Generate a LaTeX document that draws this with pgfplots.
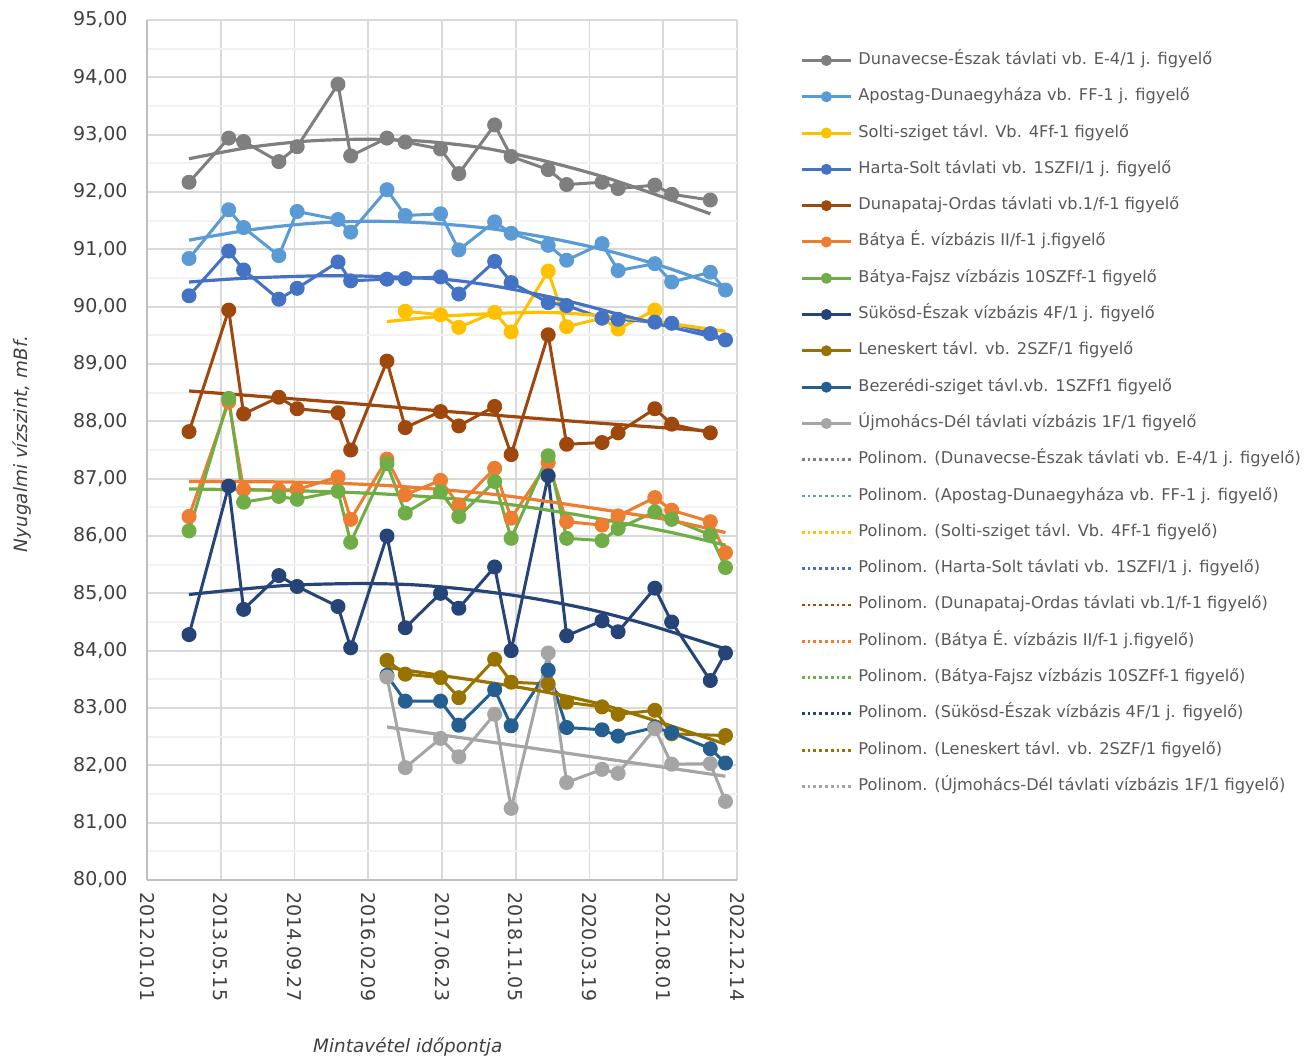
\documentclass[border=0pt]{standalone}
\usepackage{fontspec}
\setmainfont{DejaVu Sans}
\usepackage{pgfplots}
\pgfplotsset{compat=1.18}

\definecolor{cDuna}{HTML}{7F7F7F}
\definecolor{cApos}{HTML}{5B9BD5}
\definecolor{cSolt}{HTML}{FFC000}
\definecolor{cHart}{HTML}{4472C4}
\definecolor{cOrda}{HTML}{9E480E}
\definecolor{cBaty}{HTML}{ED7D31}
\definecolor{cFajs}{HTML}{70AD47}
\definecolor{cSuko}{HTML}{264478}
\definecolor{cLene}{HTML}{997300}
\definecolor{cBeze}{HTML}{255E91}
\definecolor{cUjmo}{HTML}{A5A5A5}
\definecolor{txt}{HTML}{404040}
\definecolor{legtxt}{HTML}{595959}

\pgfplotsset{
  series/.style={color=#1, line width=1.5pt, line join=round, mark=*, mark size=3pt,
    mark options={solid, fill=#1, draw=#1}},
  trend/.style={color=#1, line width=1.6pt, smooth, forget plot},
  trendkey/.style={color=#1, line width=1.4pt, dash pattern=on 1.4pt off 1.5pt},
}

\begin{document}
\begin{tikzpicture}
\useasboundingbox (-73.5pt,-90.5pt) rectangle (578.5pt,440pt);
\begin{axis}[
  width=295pt, height=430pt, scale only axis,
  xmin=0, xmax=4000, ymin=80, ymax=95,
  xtick={0,500,...,4000},
  xticklabels={2012.01.01,2013.05.15,2014.09.27,2016.02.09,2017.06.23,2018.11.05,2020.03.19,2021.08.01,2022.12.14},
  ytick={80,81,...,95},
  minor y tick num=1,
  xmajorgrids, ymajorgrids, yminorgrids,
  major grid style={draw=black!15, line width=0.9pt},
  minor grid style={draw=black!5, line width=0.9pt},
  axis x line*=bottom, axis y line*=left,
  axis line style={draw=black!25, line width=1pt, -},
  major tick length=0pt, minor tick length=0pt,
  tick style={draw=none},
  /pgf/number format/assume math mode=true,
  y tick label style={/pgf/number format/fixed, /pgf/number format/fixed zerofill,
    /pgf/number format/precision=2, /pgf/number format/use comma,
    anchor=east, inner sep=0pt, font=\fontsize{9.5}{11}\selectfont, text=txt},
  yticklabel shift=9.5pt,
  x tick label style={rotate=-90, anchor=west, inner sep=0pt,
    font=\fontsize{9.5}{11}\selectfont, text=txt},
  xticklabel shift=6pt,
  xlabel={\textit{Mintavétel időpontja}},
  xlabel style={at={(axis description cs:0.442,-0.194)}, anchor=center,
    font=\fontsize{9.2}{11}\selectfont, text=txt},
  ylabel={\textit{Nyugalmi vízszint, mBf.}},
  ylabel style={at={(axis description cs:-0.212,0.507)}, anchor=center,
    font=\fontsize{9.2}{11}\selectfont, text=txt},
  legend cell align=left,
  legend style={at={(axis description cs:1.0966,0.9674)}, anchor=north west,
    draw=none, fill=none, font=\fontsize{8.1}{9}\selectfont, text=legtxt,
    row sep=10.15pt, column sep=3pt,
    nodes={inner sep=0pt, text height=6pt, text depth=2pt}},
  legend image code/.code={\draw[#1, mark size=2pt, mark repeat=2, mark phase=2]
    plot coordinates {(0pt,0pt) (12.25pt,0pt) (24.5pt,0pt)};},
]
% Dunavecse-Észak
\addplot[series=cDuna] coordinates {(285,92.17)(554,92.94)(655,92.88)(894,92.53)(1018,92.79)(1295,93.88)(1381,92.63)(1627,92.94)(1751,92.87)(1990,92.75)(2114,92.32)(2357,93.17)(2469,92.62)(2720,92.39)(2845,92.13)(3085,92.17)(3194,92.06)(3443,92.12)(3557,91.96)(3819,91.86)};
\addlegendentry{Dunavecse-Észak távlati vb. E-4/1 j. figyelő}
% Apostag-Dunaegyháza
\addplot[series=cApos] coordinates {(285,90.84)(554,91.69)(655,91.38)(894,90.89)(1018,91.66)(1295,91.52)(1381,91.30)(1627,92.04)(1751,91.59)(1990,91.62)(2114,90.99)(2357,91.48)(2469,91.28)(2720,91.07)(2845,90.81)(3085,91.10)(3194,90.63)(3443,90.75)(3557,90.43)(3819,90.60)(3922,90.29)};
\addlegendentry{Apostag-Dunaegyháza vb. FF-1 j. figyelő}
% Solti-sziget
\addplot[series=cSolt] coordinates {(1751,89.92)(1990,89.86)(2114,89.64)(2357,89.90)(2469,89.56)(2720,90.62)(2845,89.65)(3085,89.80)(3194,89.61)(3443,89.94)};
\addlegendentry{Solti-sziget távl. Vb. 4Ff-1 figyelő}
% Harta-Solt
\addplot[series=cHart] coordinates {(285,90.19)(554,90.97)(655,90.64)(894,90.13)(1018,90.32)(1295,90.78)(1381,90.45)(1627,90.48)(1751,90.49)(1990,90.52)(2114,90.22)(2357,90.79)(2469,90.42)(2720,90.07)(2845,90.02)(3085,89.80)(3194,89.78)(3443,89.73)(3557,89.71)(3819,89.53)(3922,89.42)};
\addlegendentry{Harta-Solt távlati vb. 1SZFI/1 j. figyelő}
% Dunapataj-Ordas
\addplot[series=cOrda] coordinates {(285,87.82)(554,89.94)(655,88.13)(894,88.42)(1018,88.22)(1295,88.15)(1381,87.50)(1627,89.05)(1751,87.89)(1990,88.17)(2114,87.92)(2357,88.26)(2469,87.42)(2720,89.51)(2845,87.60)(3085,87.63)(3194,87.80)(3443,88.22)(3557,87.95)(3819,87.80)};
\addlegendentry{Dunapataj-Ordas távlati vb.1/f-1 figyelő}
% Bátya É.
\addplot[series=cBaty] coordinates {(285,86.34)(554,88.34)(655,86.81)(894,86.80)(1018,86.81)(1295,87.03)(1381,86.29)(1627,87.34)(1751,86.72)(1990,86.97)(2114,86.54)(2357,87.18)(2469,86.31)(2720,87.28)(2845,86.25)(3085,86.19)(3194,86.35)(3443,86.67)(3557,86.45)(3819,86.25)(3922,85.71)};
\addlegendentry{Bátya É. vízbázis II/f-1 j.figyelő}
% Bátya-Fajsz
\addplot[series=cFajs] coordinates {(285,86.09)(554,88.40)(655,86.59)(894,86.69)(1018,86.64)(1295,86.78)(1381,85.89)(1627,87.26)(1751,86.40)(1990,86.77)(2114,86.34)(2357,86.95)(2469,85.96)(2720,87.40)(2845,85.96)(3085,85.92)(3194,86.13)(3443,86.42)(3557,86.29)(3819,86.02)(3922,85.45)};
\addlegendentry{Bátya-Fajsz vízbázis 10SZFf-1 figyelő}
% Sükösd-Észak
\addplot[series=cSuko] coordinates {(285,84.28)(554,86.87)(655,84.72)(894,85.31)(1018,85.12)(1295,84.77)(1381,84.05)(1627,86.00)(1751,84.40)(1990,85.00)(2114,84.74)(2357,85.46)(2469,84.00)(2720,87.05)(2845,84.26)(3085,84.52)(3194,84.33)(3443,85.09)(3557,84.50)(3819,83.48)(3922,83.96)};
\addlegendentry{Sükösd-Észak vízbázis 4F/1 j. figyelő}
% Leneskert
\addplot[series=cLene] coordinates {(1627,83.83)(1751,83.59)(1990,83.53)(2114,83.18)(2357,83.85)(2469,83.45)(2720,83.42)(2845,83.10)(3085,83.02)(3194,82.89)(3443,82.96)(3557,82.55)(3922,82.52)};
\addlegendentry{Leneskert távl. vb. 2SZF/1 figyelő}
% Bezerédi-sziget
\addplot[series=cBeze] coordinates {(1627,83.57)(1751,83.12)(1990,83.12)(2114,82.70)(2357,83.32)(2469,82.69)(2720,83.66)(2845,82.66)(3085,82.62)(3194,82.51)(3443,82.66)(3557,82.57)(3819,82.29)(3922,82.04)};
\addlegendentry{Bezerédi-sziget távl.vb. 1SZFf1 figyelő}
% Újmohács-Dél
\addplot[series=cUjmo] coordinates {(1627,83.54)(1751,81.96)(1990,82.47)(2114,82.15)(2357,82.89)(2469,81.25)(2720,83.96)(2845,81.70)(3085,81.93)(3194,81.86)(3443,82.64)(3557,82.02)(3819,82.03)(3922,81.37)};
\addlegendentry{Újmohács-Dél távlati vízbázis 1F/1 figyelő}

% polynomial trend lines
\addplot[trend=cDuna] coordinates {(285,92.58)(700,92.78)(1100,92.89)(1500,92.92)(1900,92.88)(2300,92.76)(2700,92.54)(3100,92.26)(3500,91.91)(3819,91.62)};
\addplot[trend=cApos] coordinates {(285,91.16)(700,91.34)(1100,91.45)(1500,91.49)(1900,91.46)(2300,91.37)(2700,91.21)(3100,90.99)(3500,90.70)(3922,90.32)};
\addplot[trend=cSolt] coordinates {(1627,89.74)(1990,89.83)(2357,89.88)(2720,89.90)(3085,89.84)(3443,89.74)(3922,89.57)};
\addplot[trend=cHart] coordinates {(285,90.43)(700,90.50)(1300,90.54)(1990,90.48)(2400,90.34)(2850,90.10)(3300,89.80)(3922,89.42)};
\addplot[trend=cOrda] coordinates {(285,88.53)(1300,88.33)(2000,88.18)(2900,88.00)(3819,87.83)};
\addplot[trend=cBaty] coordinates {(285,86.95)(1000,86.94)(1627,86.88)(2300,86.74)(2720,86.60)(3194,86.42)(3557,86.27)(3922,86.06)};
\addplot[trend=cFajs] coordinates {(285,86.82)(1000,86.79)(1627,86.73)(2300,86.60)(2845,86.40)(3194,86.24)(3557,86.06)(3922,85.84)};
\addplot[trend=cSuko] coordinates {(285,84.98)(900,85.13)(1400,85.17)(1800,85.15)(2200,85.06)(2600,84.92)(3000,84.72)(3400,84.45)(3922,84.03)};
\addplot[trend=cLene] coordinates {(1627,83.71)(1990,83.57)(2357,83.43)(2720,83.27)(3085,83.06)(3443,82.78)(3922,82.37)};
\addplot[trend=cUjmo] coordinates {(1627,82.67)(2720,82.26)(3922,81.81)};

\addlegendimage{trendkey=cDuna}
\addlegendentry{Polinom. (Dunavecse-Észak távlati vb. E-4/1 j. figyelő)}
\addlegendimage{trendkey=cApos}
\addlegendentry{Polinom. (Apostag-Dunaegyháza vb. FF-1 j. figyelő)}
\addlegendimage{trendkey=cSolt}
\addlegendentry{Polinom. (Solti-sziget távl. Vb. 4Ff-1 figyelő)}
\addlegendimage{trendkey=cHart}
\addlegendentry{Polinom. (Harta-Solt távlati vb. 1SZFI/1 j. figyelő)}
\addlegendimage{trendkey=cOrda}
\addlegendentry{Polinom. (Dunapataj-Ordas távlati vb.1/f-1 figyelő)}
\addlegendimage{trendkey=cBaty}
\addlegendentry{Polinom. (Bátya É. vízbázis II/f-1 j.figyelő)}
\addlegendimage{trendkey=cFajs}
\addlegendentry{Polinom. (Bátya-Fajsz vízbázis 10SZFf-1 figyelő)}
\addlegendimage{trendkey=cSuko}
\addlegendentry{Polinom. (Sükösd-Észak vízbázis 4F/1 j. figyelő)}
\addlegendimage{trendkey=cLene}
\addlegendentry{Polinom. (Leneskert távl. vb. 2SZF/1 figyelő)}
\addlegendimage{trendkey=cUjmo}
\addlegendentry{Polinom. (Újmohács-Dél távlati vízbázis 1F/1 figyelő)}
\end{axis}
\end{tikzpicture}
\end{document}
